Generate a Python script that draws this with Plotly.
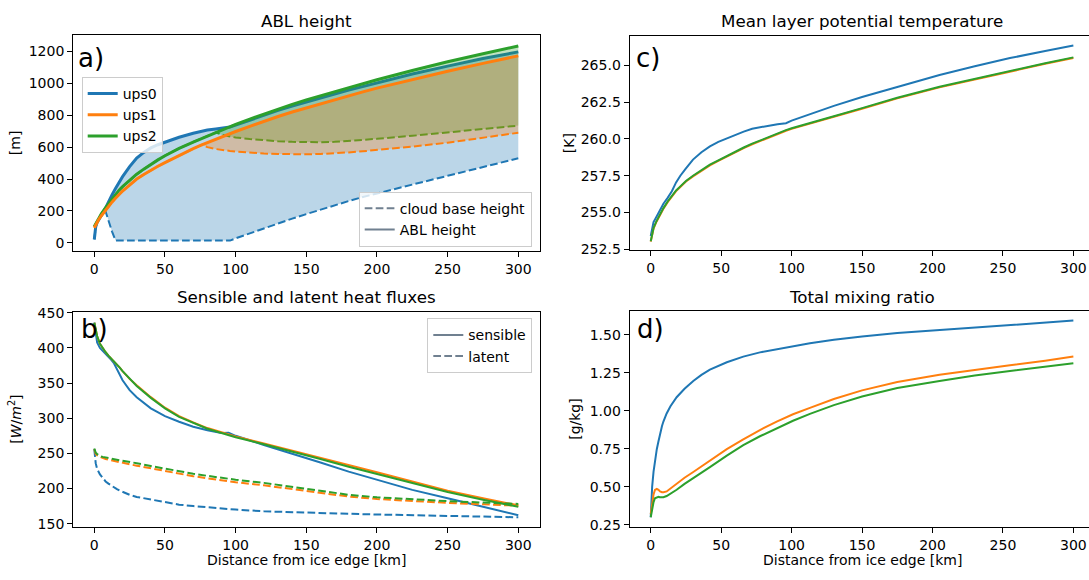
import plotly.graph_objects as go

W, H = 1089, 580

# ---------------- data ----------------
series_names = ["ups0", "ups1", "ups2"]
colors = ["#1f77b4", "#ff7f0e", "#2ca02c"]
fills = ["rgba(31,119,180,0.3)", "rgba(255,127,14,0.3)", "rgba(44,160,44,0.3)"]

# panel a: ABL height and cloud base height [m]
km_a = [0, 1, 2, 3, 5, 7.5, 10, 12.5, 15, 17.5, 20, 25, 30, 35, 40, 45, 50, 60, 70, 76,
        80, 86, 90, 96, 100, 110, 120, 130, 140, 150, 160, 170, 180, 190, 200, 225, 250, 275, 300]
abl_ups0 = [21, 100, 128, 145, 172, 210, 258, 300, 340, 378, 415, 478, 532, 567, 595, 615, 632, 662, 687, 700,
            707, 714, 718, 726, 738, 770, 800, 830, 858, 884, 908, 932, 957, 980, 1003, 1058, 1108, 1155, 1197]
cb_ups0 = [21, 100, 128, 145, 172, 210, 138, 72, 15, 14, 14, 14, 14, 14, 14, 14, 14, 14, 14, 14,
           14, 14, 14, 14, 28, 60, 92, 122, 152, 180, 208, 235, 262, 287, 310, 365, 420, 475, 530]
abl_ups1 = [95, 112, 130, 145, 170, 200, 228, 255, 280, 303, 325, 362, 400, 428, 455, 480, 503, 548, 590, 614,
            628, 650, 665, 686, 698, 730, 762, 792, 820, 846, 872, 897, 922, 946, 970, 1025, 1076, 1125, 1172]
cb_ups1 = [95, 112, 130, 145, 170, 200, 228, 255, 280, 303, 325, 362, 400, 428, 455, 480, 503, 548, 590, 614,
           600, 588, 582, 576, 572, 565, 560, 557, 555, 555, 557, 561, 567, 574, 582, 603, 628, 658, 690]
abl_ups2 = [102, 118, 140, 155, 182, 214, 245, 276, 305, 330, 352, 392, 430, 462, 492, 520, 546, 592, 632, 655,
            670, 692, 706, 728, 742, 776, 808, 840, 868, 896, 922, 948, 973, 998, 1022, 1080, 1135, 1185, 1234]
cb_ups2 = [102, 118, 140, 155, 182, 214, 245, 276, 305, 330, 352, 392, 430, 462, 492, 520, 546, 592, 632, 655,
           670, 692, 678, 665, 660, 651, 643, 637, 633, 631, 631, 633, 638, 645, 652, 671, 692, 714, 735]

# panel b: sensible and latent heat fluxes [W/m2]
km_b = [0, 1, 2, 4, 6, 8, 10, 12, 14, 16, 18, 20, 25, 30, 40, 50, 60, 70, 80, 90, 95, 100,
        120, 140, 160, 180, 200, 225, 250, 275, 300]
sens_ups0 = [436, 420, 408, 400, 396, 392, 388, 383, 378, 370, 362, 354, 340, 330, 314, 303, 295, 288, 283, 279, 279.5, 275,
             262, 250, 237, 224, 212, 198, 186, 174, 162]
sens_ups1 = [436, 426, 417, 406, 399, 394, 389, 385, 380, 376, 372, 367, 356, 347, 330, 315, 303, 294, 286, 280, 277, 274,
             264, 254, 244, 233, 223, 210, 197, 186, 176]
sens_ups2 = [436, 426, 417, 406, 399, 394, 389, 385, 380, 376, 372, 367, 356, 346, 329, 314, 302, 293, 285, 279, 276, 273,
             263, 253, 242, 231, 221, 208, 195, 184, 174]
lat_ups0 = [256, 236, 228, 220, 215, 210, 207, 204, 201, 199, 197, 195, 191, 188, 184, 180, 177, 175, 173, 171, 170.5, 170,
            167.5, 166, 165, 164, 163, 162, 161, 160, 159]
lat_ups1 = [256, 249, 247, 245, 243, 242, 241, 240, 239, 238, 237, 236, 234.5, 232.5, 228.5, 224.5, 221, 217.5, 214.5, 211.5, 210, 209,
            204.5, 199.5, 193.5, 188.5, 185, 182, 179.5, 177.5, 175.5]
lat_ups2 = [257, 251, 249, 246, 245, 244, 243, 242, 241.5, 241, 240, 239.5, 238, 236, 232, 228, 225, 221, 218, 215, 214, 212.5,
            208, 202, 196, 191, 187.5, 184.5, 182, 180, 178]

# panel c: mean layer potential temperature [K]
km_c = [0, 1, 2, 4, 6, 9, 12, 15, 18, 21, 25, 30, 36, 42, 48, 54, 60, 66, 72, 78, 85, 90, 96, 100, 105, 113,
        130, 150, 175, 205, 230, 255, 280, 300]
theta_ups0 = [253.4, 254.0, 254.35, 254.7, 255.1, 255.6, 256.0, 256.45, 257.05, 257.5, 258.0, 258.6, 259.1, 259.5, 259.8,
              260.05, 260.3, 260.5, 260.7, 260.82, 260.92, 261.0, 261.07, 261.25, 261.42, 261.7,
              262.25, 262.85, 263.55, 264.35, 264.95, 265.5, 265.98, 266.35]
theta_ups1 = [253.02, 253.56, 253.91, 254.36, 254.76, 255.26, 255.71, 256.11, 256.46, 256.74, 257.11, 257.46, 257.86, 258.21,
              258.51, 258.81, 259.11, 259.38, 259.64, 259.88, 260.16, 260.36, 260.56, 260.69, 260.82, 261.03,
              261.51, 262.06, 262.76, 263.51, 264.06, 264.61, 265.11, 265.51]
theta_ups2 = [253.05, 253.6, 253.95, 254.4, 254.8, 255.3, 255.75, 256.15, 256.5, 256.78, 257.15, 257.5, 257.9, 258.25,
              258.55, 258.85, 259.15, 259.42, 259.68, 259.92, 260.2, 260.4, 260.6, 260.73, 260.86, 261.07,
              261.55, 262.1, 262.8, 263.55, 264.1, 264.65, 265.15, 265.55]

# panel d: total mixing ratio [g/kg]
km_d = [0, 0.5, 1, 2, 3, 4.3, 5.5, 6.6, 8, 9, 11.3, 14, 18.4, 24, 30.2, 36, 42, 54, 65.7, 77.5, 89.4, 101, 113,
        130, 150, 175, 205, 230, 255, 280, 300]
q_ups0 = [0.30, 0.43, 0.50, 0.60, 0.67, 0.748, 0.80, 0.855, 0.90, 0.93, 0.983, 1.03, 1.09, 1.145, 1.197, 1.237, 1.271,
          1.32, 1.357, 1.385, 1.406, 1.427, 1.445, 1.468, 1.49, 1.512, 1.532, 1.55, 1.566, 1.581, 1.594]
q_ups1 = [0.32, 0.36, 0.40, 0.45, 0.48, 0.487, 0.48, 0.47, 0.465, 0.465, 0.47, 0.49, 0.524, 0.56, 0.598, 0.635, 0.673,
          0.748, 0.812, 0.874, 0.929, 0.978, 1.02, 1.078, 1.135, 1.19, 1.237, 1.27, 1.30, 1.33, 1.357]
q_ups2 = [0.30, 0.33, 0.36, 0.40, 0.425, 0.432, 0.434, 0.432, 0.43, 0.432, 0.44, 0.455, 0.481, 0.52, 0.556, 0.593, 0.63,
          0.705, 0.774, 0.833, 0.887, 0.935, 0.98, 1.038, 1.095, 1.15, 1.197, 1.233, 1.263, 1.29, 1.314]

x_ticks = [0, 50, 100, 150, 200, 250, 300]
a_ticks = [0, 200, 400, 600, 800, 1000, 1200]
b_ticks = [150, 200, 250, 300, 350, 400, 450]
c_ticks = [252.5, 255.0, 257.5, 260.0, 262.5, 265.0]
d_ticks = [0.25, 0.50, 0.75, 1.00, 1.25, 1.50]

# ---------------- figure ----------------
def fx(px):
    return px / W

def fy(py):
    return 1 - py / H

DASH = "7.7px,3.3px"
fig = go.Figure()

abl = [abl_ups0, abl_ups1, abl_ups2]
cb = [cb_ups0, cb_ups1, cb_ups2]
for i in [0, 2, 1]:
    fig.add_trace(go.Scatter(x=km_a, y=abl[i], mode="lines", name=series_names[i],
                             line=dict(color=colors[i], width=3), legend="legend", legendrank=i + 1,
                             xaxis="x", yaxis="y"))
    fig.add_trace(go.Scatter(x=km_a, y=cb[i], mode="lines", showlegend=False,
                             line=dict(color=colors[i], width=2, dash=DASH),
                             fill="tonexty", fillcolor=fills[i], xaxis="x", yaxis="y"))

sens = [sens_ups0, sens_ups1, sens_ups2]
lat = [lat_ups0, lat_ups1, lat_ups2]
for i in range(3):
    fig.add_trace(go.Scatter(x=km_b, y=sens[i], mode="lines", showlegend=False,
                             line=dict(color=colors[i], width=2), xaxis="x2", yaxis="y2"))
    fig.add_trace(go.Scatter(x=km_b, y=lat[i], mode="lines", showlegend=False,
                             line=dict(color=colors[i], width=2, dash=DASH), xaxis="x2", yaxis="y2"))

theta = [theta_ups0, theta_ups1, theta_ups2]
q = [q_ups0, q_ups1, q_ups2]
for i in range(3):
    fig.add_trace(go.Scatter(x=km_c, y=theta[i], mode="lines", showlegend=False,
                             line=dict(color=colors[i], width=2), xaxis="x3", yaxis="y3"))
for i in range(3):
    fig.add_trace(go.Scatter(x=km_d, y=q[i], mode="lines", showlegend=False,
                             line=dict(color=colors[i], width=2), xaxis="x4", yaxis="y4"))

# legend-only entries
GRAY = "slategray"
fig.add_trace(go.Scatter(x=[None], y=[None], mode="lines", name="cloud base height",
                         line=dict(color=GRAY, width=2, dash=DASH), legend="legend2", xaxis="x", yaxis="y"))
fig.add_trace(go.Scatter(x=[None], y=[None], mode="lines", name="ABL height",
                         line=dict(color=GRAY, width=2), legend="legend2", xaxis="x", yaxis="y"))
fig.add_trace(go.Scatter(x=[None], y=[None], mode="lines", name="sensible",
                         line=dict(color=GRAY, width=2), legend="legend3", xaxis="x2", yaxis="y2"))
fig.add_trace(go.Scatter(x=[None], y=[None], mode="lines", name="latent",
                         line=dict(color=GRAY, width=2, dash=DASH), legend="legend3", xaxis="x2", yaxis="y2"))

base = dict(showgrid=False, zeroline=False, showline=True, linecolor="black", linewidth=1,
            ticks="outside", ticklen=5, tickwidth=1, tickcolor="black",
            tickfont=dict(size=14, color="black"))

LX = [fx(73.1), fx(539.5)]
RX = [fx(629.6), 1.0]

leg = dict(bgcolor="rgba(255,255,255,0.8)", bordercolor="#cccccc", borderwidth=1,
           font=dict(size=14, color="black"), tracegroupgap=0, traceorder="normal")

fig.update_layout(
    width=W, height=H, margin=dict(l=0, r=0, t=0, b=0),
    paper_bgcolor="white", plot_bgcolor="white",
    font=dict(family="DejaVu Sans", size=14, color="black"),
    xaxis=dict(base, domain=LX, range=[-15, 315], tickvals=x_ticks, mirror=True, anchor="y"),
    yaxis=dict(base, domain=[fy(250), fy(29)], range=[-51, 1301], tickvals=a_ticks, mirror=True, anchor="x"),
    xaxis2=dict(base, domain=LX, range=[-15, 315], tickvals=x_ticks, mirror=True, anchor="y2"),
    yaxis2=dict(base, domain=[fy(533), fy(312.7)], range=[145, 451], tickvals=b_ticks, mirror=True, anchor="x2"),
    xaxis3=dict(base, domain=RX, range=[-15, 311.1], tickvals=x_ticks, mirror=True, anchor="y3"),
    yaxis3=dict(base, domain=[fy(249.5), fy(29.3)], range=[252.42, 267.03], tickvals=c_ticks,
                tickformat=".1f", mirror=False, anchor="x3"),
    xaxis4=dict(base, domain=RX, range=[-15, 311.1], tickvals=x_ticks, mirror=True, anchor="y4"),
    yaxis4=dict(base, domain=[fy(532.7), fy(312)], range=[0.237, 1.654], tickvals=d_ticks,
                tickformat=".2f", mirror=False, anchor="x4"),
    legend=dict(leg, x=fx(81.7), y=fy(71.7), xanchor="left", yanchor="top"),
    legend2=dict(leg, x=fx(531.7), y=fy(245.7), xanchor="right", yanchor="bottom"),
    legend3=dict(leg, x=fx(532.3), y=fy(319), xanchor="right", yanchor="top"),
)

ann = []
def text(px, py, s, size, xa="center", ya="middle", angle=0):
    ann.append(dict(x=fx(px), y=fy(py), xref="paper", yref="paper", text=s, showarrow=False,
                    xanchor=xa, yanchor=ya, textangle=angle,
                    font=dict(size=size, color="black", family="DejaVu Sans")))

# titles
text(306.3, 14.3, "ABL height", 16.7)
text(306.3, 297, "Sensible and latent heat fluxes", 16.7)
text(862, 14.3, "Mean layer potential temperature", 16.7)
text(862, 297, "Total mixing ratio", 16.7)
# axis titles
text(306.3, 566.5, "Distance from ice edge [km]", 14)
text(862, 566.5, "Distance from ice edge [km]", 14)
text(15, 139.5, "[m]", 14, angle=-90)
text(15, 423, "[<i>W</i>/<i>m</i><sup>2</sup>]", 14, angle=-90)
text(569, 139.5, "[K]", 14, angle=-90)
text(575, 422, "[g/kg]", 14, angle=-90)
# panel letters
text(76, 52, "a)", 26, xa="left")
text(79, 330, "b)", 26, xa="left")
text(634, 52, "c)", 26, xa="left")
text(635, 330, "d)", 26, xa="left")

fig.update_layout(annotations=ann)
fig.write_html("out.html")
